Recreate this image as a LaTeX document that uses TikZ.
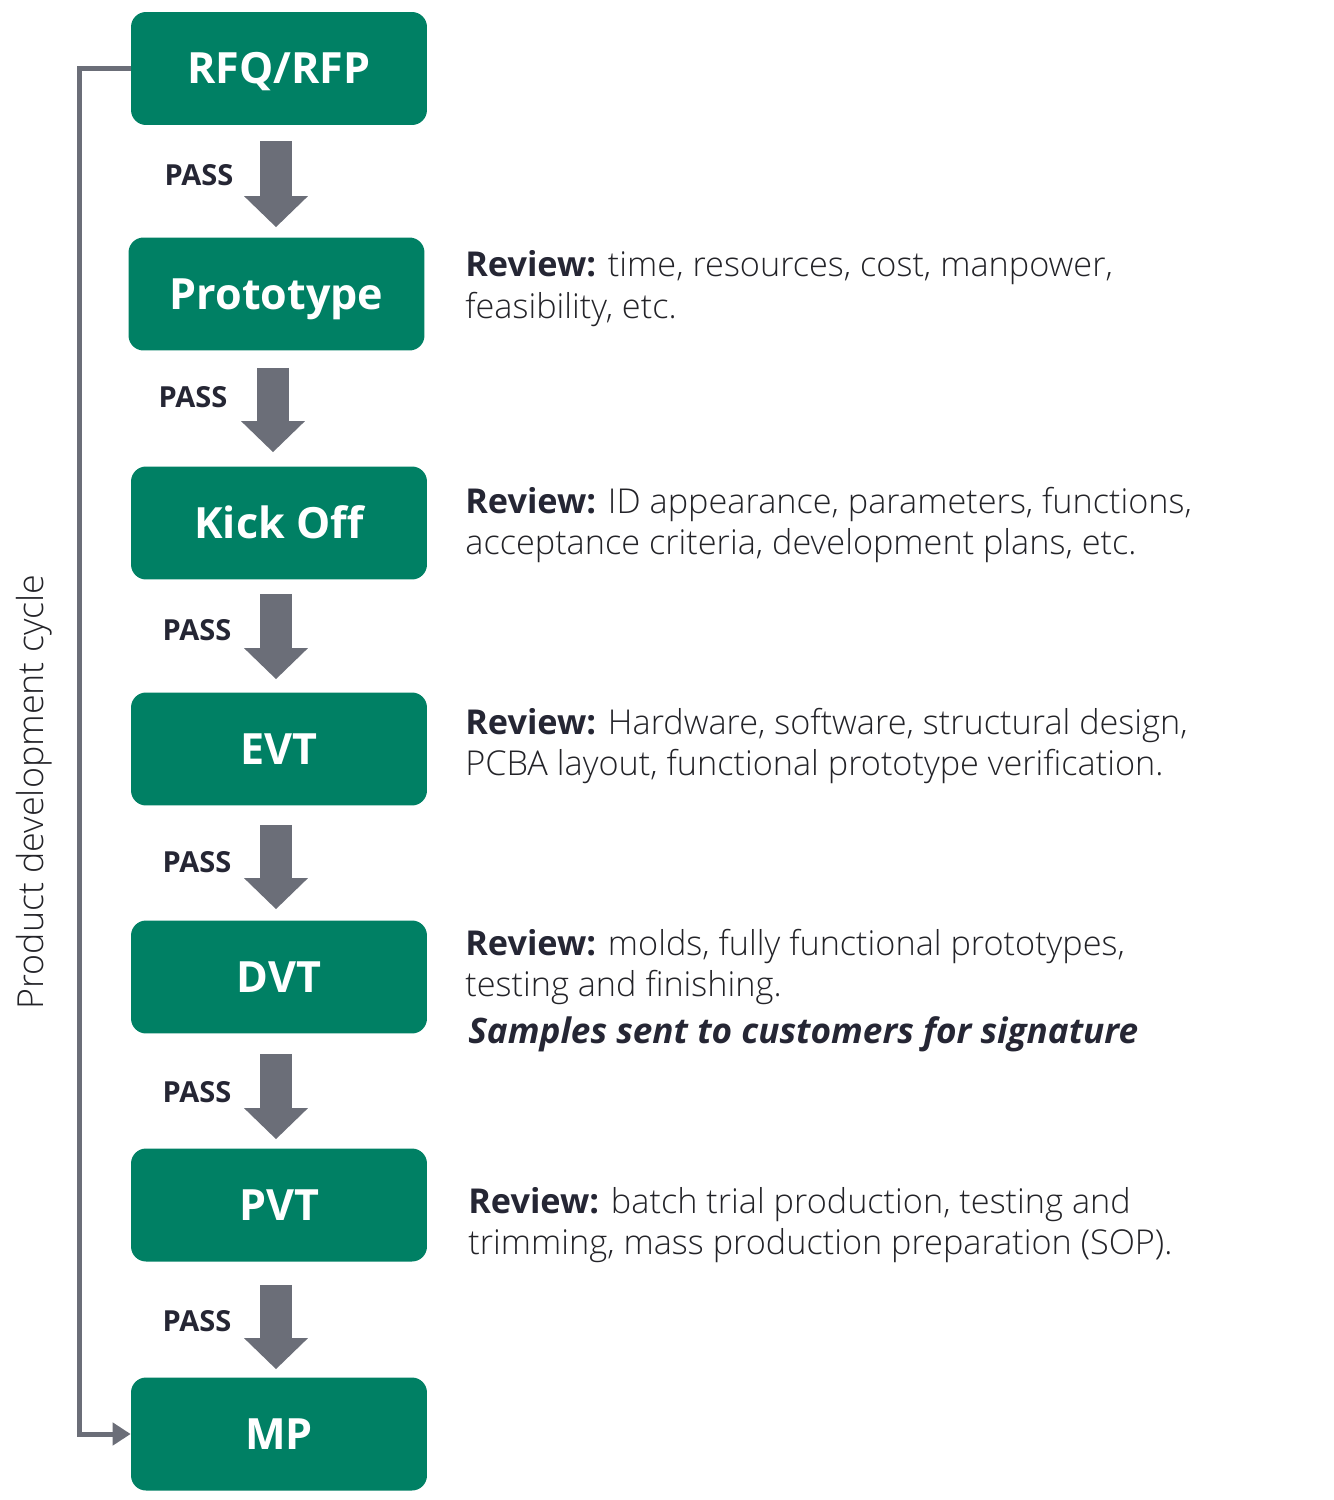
\documentclass[tikz,border=0pt]{standalone}
\usepackage{fontspec}
\setmainfont{Open Sans}
\newfontfamily\lightfont{Open Sans Light}
\usetikzlibrary{arrows.meta,calc}
\definecolor{boxgreen}{RGB}{0,128,100}
\definecolor{arrowgray}{RGB}{107,110,120}
\definecolor{darkink}{RGB}{37,38,52}
\definecolor{bodyink}{RGB}{35,35,40}
\begin{document}
\begin{tikzpicture}[x=0.02cm,y=-0.02cm]
\tikzset{
 stage/.style={fill=boxgreen, rounded corners=0.3cm, minimum width=5.92cm, minimum height=2.26cm, text=white, font=\bfseries\fontsize{24.5}{28}\selectfont, inner sep=0, text height=17.5pt, text depth=0pt},
 flow/.style={draw=arrowgray, line width=0.64cm, -{Triangle[width=1.24cm,length=0.62cm]}},
 passlabel/.style={font=\bfseries\fontsize{16.5}{19}\selectfont, text=darkink, inner sep=0},
 review/.style={anchor=west, align=left, font=\lightfont\fontsize{19.5}{23.8}\selectfont, text=bodyink, inner sep=0},
 cyclearrow/.style={draw=arrowgray, line width=0.1cm, -{Triangle[width=0.44cm,length=0.36cm]}},
}
\useasboundingbox (0,0) rectangle (1333,1500);
\node[stage] (rfq) at (279,68.5) {RFQ/RFP};
\node[stage] (proto) at (276.5,294) {Prototype};
\node[stage] (kick) at (279,523) {Kick Off};
\node[stage] (evt) at (279,749) {EVT};
\node[stage] (dvt) at (279,977) {DVT};
\node[stage] (pvt) at (279,1205) {PVT};
\node[stage] (mp) at (279,1434) {MP};

\draw[flow] ($(rfq.south)+(-3,16)$) -- ($(proto.north)+(-0.5,-10)$);
\draw[flow] ($(proto.south)+(-3.5,17)$) -- ($(kick.north)+(-6,-14)$);
\draw[flow] ($(kick.south)+(-3,14)$) -- ($(evt.north)+(-3,-13)$);
\draw[flow] ($(evt.south)+(-3,19)$) -- ($(dvt.north)+(-3,-11)$);
\draw[flow] ($(dvt.south)+(-3,20)$) -- ($(pvt.north)+(-3,-9)$);
\draw[flow] ($(pvt.south)+(-3,23)$) -- ($(mp.north)+(-3,-8)$);

\node[passlabel] (p1) at (199,175) {PASS};
\node[passlabel] (p2) at (193,397) {PASS};
\node[passlabel] (p3) at (197,630) {PASS};
\node[passlabel] (p4) at (197,862) {PASS};
\node[passlabel] (p5) at (197,1092) {PASS};
\node[passlabel] (p6) at (197,1321) {PASS};

\draw[cyclearrow] (rfq.west) -- ++(-51,0) |- (mp.west);
\node[rotate=90, font=\lightfont\fontsize{20.4}{24}\selectfont, text=bodyink] (cyc) at (34,792) {Product development cycle};

\node[review] (r1) at (465,289) {{\normalfont\bfseries\color{darkink}Review:} time, resources, cost, manpower,\\feasibility, etc.};
\node[review] (r2) at (465,525) {{\normalfont\bfseries\color{darkink}Review:} ID appearance, parameters, functions,\\acceptance criteria, development plans, etc.};
\node[review] (r3) at (465,746) {{\normalfont\bfseries\color{darkink}Review:} Hardware, software, structural design,\\PCBA layout, functional prototype verification.};
\node[review] (r4) at (465,967) {{\normalfont\bfseries\color{darkink}Review:} molds, fully functional prototypes,\\testing and finishing.};
\node[review, font=\normalfont\bfseries\itshape\fontsize{20}{24}\selectfont, text=darkink] (r4b) at (468,1034) {Samples sent to customers for signature};
\node[review] (r5) at (468,1225) {{\normalfont\bfseries\color{darkink}Review:} batch trial production, testing and\\trimming, mass production preparation (SOP).};
\end{tikzpicture}
\end{document}
